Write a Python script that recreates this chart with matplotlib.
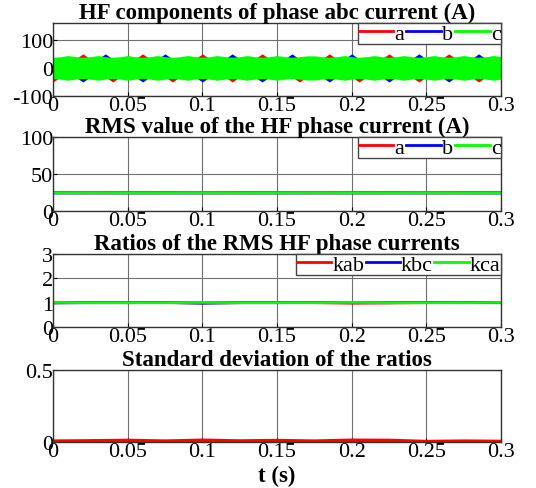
"""
HF phase current figure - 4 stacked panels
"""
import numpy as np
from matplotlib import pyplot as plt
from matplotlib.lines import Line2D

plt.rcParams['font.family'] = ['Liberation Serif', 'DejaVu Serif']
plt.rcParams['font.size'] = 16
plt.rcParams['axes.unicode_minus'] = False

# panel 1: envelopes of the HF phase currents, sampled every 5 ms
t_env = np.arange(61) * 0.005
red_up = [32, 32, 32, 32, 50, 32, 32, 32, 32, 32,
          32, 32, 50, 32, 32, 32, 32, 32, 32, 32,
          50, 32, 32, 32, 32, 32, 32, 32, 50, 32,
          32, 32, 32, 32, 32, 32, 32, 50, 32, 32,
          32, 32, 32, 32, 32, 50, 32, 32, 32, 32,
          32, 32, 32, 50, 32, 32, 32, 32, 32, 32, 32]
red_lo = [-50, -32, -32, -32, -32, -32, -32, -32, -50, -32,
          -32, -32, -32, -32, -32, -32, -50, -32, -32, -32,
          -32, -32, -32, -32, -50, -32, -32, -32, -32, -32,
          -32, -32, -32, -50, -32, -32, -32, -32, -32, -32,
          -32, -50, -32, -32, -32, -32, -32, -32, -32, -50,
          -32, -32, -32, -32, -32, -32, -32, -50, -32, -32, -32]
blue_up = [32, 32, 32, 32, 32, 32, 32, 50, 32, 32,
           32, 32, 32, 32, 32, 50, 32, 32, 32, 32,
           32, 32, 32, 32, 50, 32, 32, 32, 32, 32,
           32, 32, 50, 32, 32, 32, 32, 32, 32, 32,
           50, 32, 32, 32, 32, 32, 32, 32, 32, 50,
           32, 32, 32, 32, 32, 32, 32, 50, 32, 32, 32]
blue_lo = [-32, -32, -32, -32, -50, -32, -32, -32, -32, -32,
           -32, -32, -50, -32, -32, -32, -32, -32, -32, -32,
           -50, -32, -32, -32, -32, -32, -32, -32, -50, -32,
           -32, -32, -32, -32, -32, -32, -32, -50, -32, -32,
           -32, -32, -32, -32, -32, -50, -32, -32, -32, -32,
           -32, -32, -32, -50, -32, -32, -32, -32, -32, -32, -32]
green_up = [38, 40, 44, 40, 38, 40, 44, 40, 38, 40,
            44, 40, 38, 40, 44, 40, 38, 40, 44, 40,
            38, 40, 44, 40, 38, 40, 44, 40, 38, 40,
            44, 40, 38, 40, 43, 43, 40, 38, 40, 44,
            40, 38, 40, 44, 40, 38, 40, 44, 40, 38,
            40, 44, 40, 38, 40, 44, 40, 38, 40, 44, 40]
green_lo = [-38, -40, -44, -40, -38, -40, -44, -40, -38, -40,
            -44, -40, -38, -40, -44, -40, -38, -40, -44, -40,
            -38, -40, -44, -40, -38, -40, -44, -40, -38, -40,
            -44, -40, -38, -40, -43, -43, -40, -38, -40, -44,
            -40, -38, -40, -44, -40, -38, -40, -44, -40, -38,
            -40, -44, -40, -38, -40, -44, -40, -38, -40, -44, -40]

# panels 2-4 sampled every 25 ms
t_s = np.arange(13) * 0.025
rms_a = [24.6, 24.5, 24.6, 24.5, 24.6, 24.5, 24.6, 24.5, 24.6, 24.5, 24.6, 24.5, 24.6]
rms_b = [24.4, 24.5, 24.4, 24.5, 24.4, 24.5, 24.4, 24.5, 24.4, 24.5, 24.4, 24.5, 24.4]
rms_c = [24.5, 24.6, 24.5, 24.5, 24.6, 24.5, 24.5, 24.6, 24.5, 24.5, 24.6, 24.5, 24.5]
k_ab = [1.00, 1.01, 1.00, 1.00, 0.99, 1.00, 1.01, 1.00, 0.98, 0.99, 1.00, 1.01, 1.00]
k_bc = [0.99, 1.00, 1.00, 1.01, 0.98, 1.00, 1.00, 1.01, 1.00, 1.00, 1.01, 1.00, 1.00]
k_ca = [1.01, 1.00, 1.00, 1.00, 1.01, 1.00, 1.00, 1.00, 1.01, 1.00, 1.00, 1.00, 1.01]
std_k = [0.006, 0.008, 0.011, 0.006, 0.012, 0.007, 0.010, 0.006, 0.012, 0.011, 0.003, 0.006, 0.004]

titles = ['HF components of phase abc current (A)',
          'RMS value of the HF phase current (A)',
          'Ratios of the RMS HF phase currents',
          'Standard deviation of the ratios']
xticks = [0, 0.05, 0.1, 0.15, 0.2, 0.25, 0.3]
xticklabels = ['0', '0.05', '0.1', '0.15', '0.2', '0.25', '0.3']

W, H = 536, 489
fig = plt.figure(figsize=(W / 100, H / 100), dpi=100)
boxes = [(24, 97), (138, 212), (255, 328), (371, 443)]
axes = []
for top, bot in boxes:
    ax = fig.add_axes([53 / W, 1 - bot / H, 448 / W, (bot - top) / H])
    axes.append(ax)


def style(ax, title):
    ax.set_xlim(0, 0.3)
    ax.set_xticks(xticks)
    ax.set_xticklabels(xticklabels)
    ax.grid(True, color='#707070', lw=0.8)
    ax.set_axisbelow(True)
    ax.tick_params(direction='in', length=3, pad=0, labelsize=16)
    for s in ax.spines.values():
        s.set_color('#333333')
        s.set_linewidth(1.0)
    ax.set_title(title, fontweight='bold', fontsize=16.5, pad=0)


def legend(ax, labels, spacing=0.1):
    handles = [Line2D([], [], color=c, lw=2) for c in ('red', 'blue', '#00ff00')]
    leg = ax.legend(handles, labels, loc='upper right', ncol=3, borderaxespad=0,
                    handlelength=1.55, handletextpad=0.05, columnspacing=spacing,
                    borderpad=0.02, fancybox=False, framealpha=1,
                    edgecolor='#444444', fontsize=16, labelspacing=0)
    leg.get_frame().set_linewidth(1.0)


ax1, ax2, ax3, ax4 = axes

ax1.fill_between(t_env, red_lo, red_up, color='red', lw=0)
ax1.fill_between(t_env, blue_lo, blue_up, color='blue', lw=0)
ax1.fill_between(t_env, green_lo, green_up, color='#00ff00', lw=0)
ax1.set_ylim(-100, 160)
ax1.set_yticks([-100, 0, 100])
style(ax1, titles[0])
legend(ax1, ['a', 'b', 'c'])

ax2.plot(t_s, rms_a, color='red', lw=2)
ax2.plot(t_s, rms_b, color='blue', lw=2)
ax2.plot(t_s, rms_c, color='#00ff00', lw=2)
ax2.set_ylim(0, 100)
ax2.set_yticks([0, 50, 100])
style(ax2, titles[1])
legend(ax2, ['a', 'b', 'c'])

ax3.plot(t_s, k_ab, color='red', lw=2)
ax3.plot(t_s, k_bc, color='blue', lw=2)
ax3.plot(t_s, k_ca, color='#00ff00', lw=2)
ax3.set_ylim(0, 3)
ax3.set_yticks([0, 1, 2, 3])
style(ax3, titles[2])
legend(ax3, ['kab', 'kbc', 'kca'], spacing=0.05)

ax4.plot(t_s, std_k, color='red', lw=2.5)
ax4.set_ylim(0, 0.5)
ax4.set_yticks([0, 0.5])
ax4.set_yticklabels(['0', '0.5'])
style(ax4, titles[3])
ax4.set_xlabel('t (s)', fontweight='bold', fontsize=16.5, labelpad=3)

fig.savefig('out.png', dpi=100)
